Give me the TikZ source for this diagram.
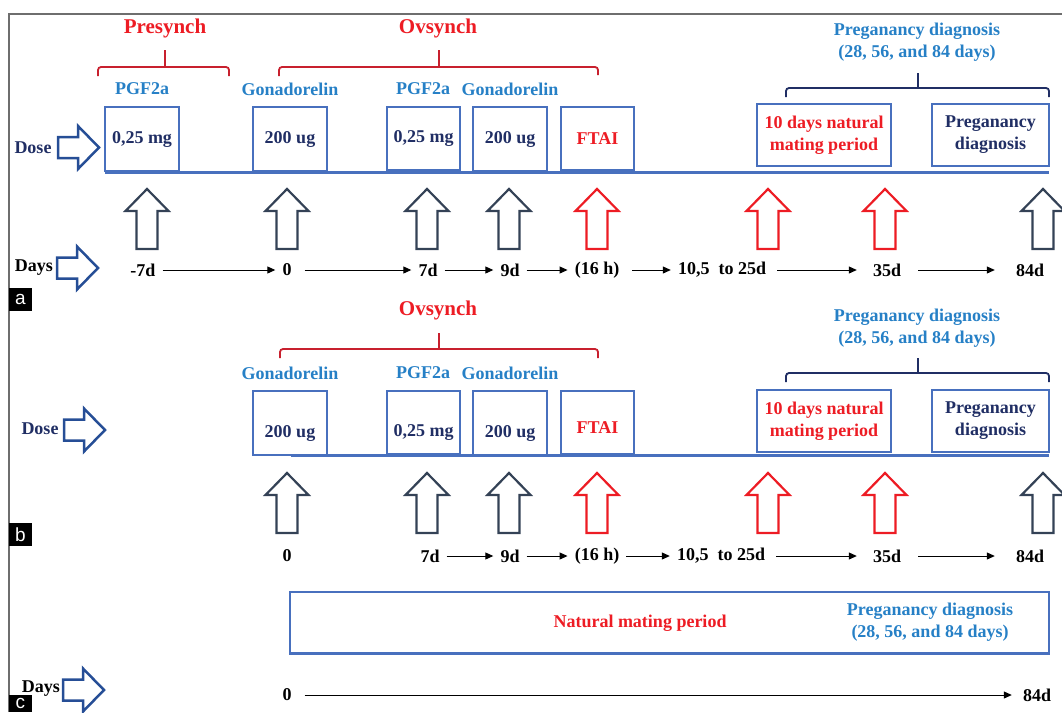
\documentclass[tikz,border=0pt]{standalone}
\usepackage{fontspec}
\setmainfont{Liberation Serif}
\setsansfont{Liberation Sans}
\usetikzlibrary{arrows.meta}

\definecolor{hotred}{RGB}{237,28,36}
\definecolor{bracered}{RGB}{200,32,46}
\definecolor{drugblue}{RGB}{38,128,198}
\definecolor{navy}{RGB}{32,46,100}
\definecolor{boxblue}{RGB}{72,112,190}
\definecolor{slate}{RGB}{52,66,86}
\definecolor{sideblue}{RGB}{38,78,150}
\definecolor{framegray}{RGB}{110,110,110}

\tikzset{
  txt/.style = {font = \fontsize{18}{22}\selectfont\bfseries, inner sep = 2pt, align = center},
  head/.style = {font = \fontsize{21}{25}\selectfont\bfseries, text = hotred, inner sep = 2pt},
  drug/.style = {txt, text = drugblue},
  dosebox/.style = {draw = boxblue, line width = 1.1, minimum width = 74, minimum height = 64, inner sep = 0, txt, text = navy},
  day/.style = {txt, text = black},
  dayarr/.style = {-{Triangle[length = 8pt, width = 7pt]}, line width = 1, shorten < = 5, shorten > = 5},
  timeline/.style = {boxblue, line width = 3},
  redbrace/.style = {bracered, line width = 1.8, rounded corners = 3},
  navybrace/.style = {navy, line width = 1.8, rounded corners = 3},
  panel/.style = {fill = black, text = white, minimum width = 23, minimum height = 23, inner sep = 0, font = \fontsize{19}{19}\selectfont\sffamily}
}

\newcommand{\upblock}[3]{\draw[#3, line width = 2.2, fill = white, line join = miter] (#1, #2) -- ++(21.5, 22) -- ++(-11, 0) -- ++(0, 38) -- ++(-21, 0) -- ++(0, -38) -- ++(-11, 0) -- cycle;}
\newcommand{\rightblock}[2]{\draw[sideblue, line width = 2.5, fill = white, line join = miter] (#1, #2 - 10.5) -- ++(20, 0) -- ++(0, -11) -- ++(21, 21.5) -- ++(-21, 21.5) -- ++(0, -11) -- ++(-20, 0) -- cycle;}

\begin{document}
\begin{tikzpicture} [x = 1pt, y = -1pt]
\useasboundingbox (0, 0) rectangle (1062, 712);
\clip (0, 0) rectangle (1062, 712);
\draw[framegray, line width = 1.5] (9, 712) -- (9, 14) -- (1062, 14);

% panel a
\node[head] (presynch) at (165, 28){Presynch};
\node[head] (ovsyncha) at (438, 28){Ovsynch};
\node[drug] (pregdiaga) at (917, 42.5){Preganancy diagnosis\\(28, 56, and 84 days)};
\draw[redbrace] (98, 76) |- (229, 67) -- (229, 76);
\draw[redbrace] (165, 67) -- (165, 50);
\draw[redbrace] (279, 76) |- (598, 67) -- (598, 75);
\draw[redbrace] (439, 67) -- (439, 50);
\draw[navybrace] (786, 97) |- (1049, 88) -- (1049, 97);
\draw[navybrace] (918, 88) -- (918, 73);
\node[drug] (pgfa1) at (142, 89){PGF2a};
\node[drug] (gona1) at (290, 89){Gonadorelin};
\node[drug] (pgfa2) at (423, 89){PGF2a};
\node[drug] (gona2) at (510, 89){Gonadorelin};
\draw[timeline] (105, 172) -- (1049, 172);
\node[dosebox] (boxa1) at (142, 139){0,25 mg};
\node[dosebox] (boxa2) at (290, 139){200 ug};
\node[dosebox, minimum width = 73, minimum height = 63] (boxa3) at (423.5, 138.5){0,25 mg};
\node[dosebox] (boxa4) at (510, 139){200 ug};
\node[dosebox, minimum width = 73, minimum height = 63, text = hotred] (boxa5) at (597.5, 138.5){FTAI};
\node[dosebox, minimum width = 134, minimum height = 62, text = hotred] (boxa6) at (824, 135){10 days natural\\mating period};
\node[dosebox, minimum width = 117, minimum height = 62] (boxa7) at (990.5, 135){Preganancy\\diagnosis};
\node[txt, text = navy] (dosea) at (33, 148){Dose};
\rightblock{58}{147.5}
\upblock{147}{189}{slate}
\upblock{287}{189}{slate}
\upblock{427}{189}{slate}
\upblock{509}{189}{slate}
\upblock{597}{189}{hotred}
\upblock{768}{189}{hotred}
\upblock{885}{189}{hotred}
\upblock{1043}{189}{slate}
\node[day] (daysa) at (34, 268){Days};
\rightblock{57}{268}
\node[day] (am7) at (143, 270){-7d};
\node[day] (a0) at (287, 270){0};
\node[day] (a7) at (428, 270){7d};
\node[day] (a9) at (510, 270){9d};
\node[day] (a16) at (597, 270){(16 h)};
\node[day] (a25) at (722, 270){10,5\ \ to 25d};
\node[day] (a35) at (887, 270){35d};
\node[day] (a84) at (1030, 270){84d};
\draw[dayarr] (am7) -- (a0);
\draw[dayarr, shorten < = 11] (a0) -- (a7);
\draw[dayarr] (a7) -- (a9);
\draw[dayarr] (a9) -- (a16);
\draw[dayarr, shorten < = 11] (a16) -- (a25);
\draw[dayarr, shorten < = 9, shorten > = 14] (a25) -- (a35);
\draw[dayarr, shorten < = 15, shorten > = 19] (a35) -- (a84);
\node[panel] (lbla) at (20.5, 299.5){a};

% panel b
\node[head] (ovsynchb) at (438, 310){Ovsynch};
\node[drug] (pregdiagb) at (917, 328){Preganancy diagnosis\\(28, 56, and 84 days)};
\draw[redbrace] (280, 358) |- (598, 349) -- (598, 358);
\draw[redbrace] (439, 349) -- (439, 333);
\draw[navybrace] (786, 382) |- (1049, 373) -- (1049, 382);
\draw[navybrace] (918, 373) -- (918, 358);
\node[drug] (gonb1) at (290, 373){Gonadorelin};
\node[drug] (pgfb2) at (423, 373){PGF2a};
\node[drug] (gonb2) at (510, 373){Gonadorelin};
\draw[timeline] (291, 455) -- (1049, 455);
\node[dosebox] (boxb2) at (290, 423){};
\node[dosebox, minimum width = 73, minimum height = 63] (boxb3) at (423.5, 422.5){};
\node[dosebox] (boxb4) at (510, 423){};
\node[dosebox, minimum width = 73, minimum height = 63] (boxb5) at (597.5, 422.5){};
\node[txt, text = navy] (txtb2) at ([yshift = -10pt]boxb2.center){200 ug};
\node[txt, text = navy] (txtb3) at ([yshift = -10pt]boxb3.center){0,25 mg};
\node[txt, text = navy] (txtb4) at ([yshift = -10pt]boxb4.center){200 ug};
\node[txt, text = hotred] (txtb5) at ([yshift = -5pt]boxb5.center){FTAI};
\node[dosebox, minimum width = 134, minimum height = 62, text = hotred] (boxb6) at (824, 421){10 days natural\\mating period};
\node[dosebox, minimum width = 117, minimum height = 62] (boxb7) at (990.5, 421){Preganancy\\diagnosis};
\node[txt, text = navy] (doseb) at (40, 429){Dose};
\rightblock{64}{430}
\upblock{287}{473}{slate}
\upblock{427}{473}{slate}
\upblock{509}{473}{slate}
\upblock{597}{473}{hotred}
\upblock{768}{473}{hotred}
\upblock{885}{473}{hotred}
\upblock{1043}{473}{slate}
\node[day] (b0) at (287, 556){0};
\node[day] (b7) at (430, 556){7d};
\node[day] (b9) at (510, 556){9d};
\node[day] (b16) at (597, 556){(16 h)};
\node[day] (b25) at (721, 556){10,5\ \ to 25d};
\node[day] (b35) at (887, 556){35d};
\node[day] (b84) at (1030, 556){84d};
\draw[dayarr] (b7) -- (b9);
\draw[dayarr] (b9) -- (b16);
\draw[dayarr] (b16) -- (b25);
\draw[dayarr, shorten < = 9, shorten > = 14] (b25) -- (b35);
\draw[dayarr, shorten < = 15, shorten > = 19] (b35) -- (b84);
\node[panel] (lblb) at (20.5, 534.5){b};

% panel c
\node[dosebox, minimum width = 759, minimum height = 61] (matingc) at (669.5, 622.5){};
\draw[timeline] (matingc.south west) -- (matingc.south east);
\node[txt, text = hotred] (naturalc) at (640, 623){Natural mating period};
\node[drug] (pregdiagc) at (930, 622){Preganancy diagnosis\\(28, 56, and 84 days)};
\node[day] (daysc) at (41, 689){Days};
\rightblock{63}{690}
\node[day] (c0) at (287, 695){0};
\node[day] (c84) at (1037, 695){84d};
\draw[dayarr, shorten < = 11, shorten > = 9] (c0) -- (c84);
\node[panel, minimum height = 17] (lblc) at (20.5, 703.5){c};
\end{tikzpicture}
\end{document}
